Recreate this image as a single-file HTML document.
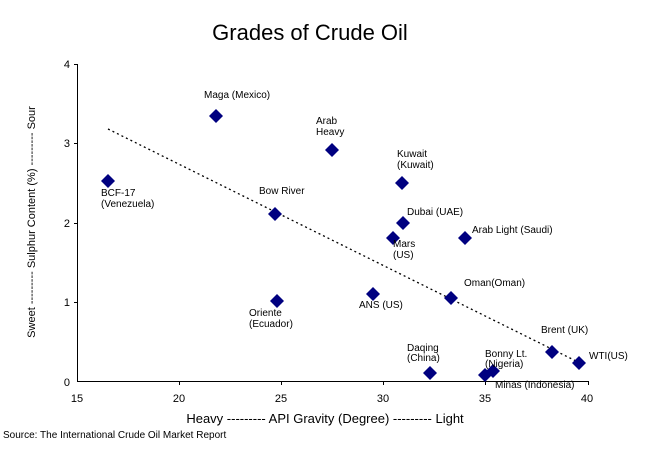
<!DOCTYPE html><html><head><style>body{margin:0;background:#fff}</style></head><body>
<svg width="650" height="448" xmlns="http://www.w3.org/2000/svg" font-family="Liberation Sans, Arial, sans-serif">
<rect width="650" height="448" fill="#fff"/>
<text x="310" y="40" font-size="22" text-anchor="middle" fill="#000">Grades of Crude Oil</text>
<g stroke="#000" stroke-width="1">
<line x1="77.5" y1="64" x2="77.5" y2="382"/>
<line x1="77" y1="381.5" x2="589" y2="381.5"/>
<line x1="74" y1="64.5" x2="78" y2="64.5"/><line x1="74" y1="143.5" x2="78" y2="143.5"/><line x1="74" y1="223.5" x2="78" y2="223.5"/><line x1="74" y1="302.5" x2="78" y2="302.5"/>
<line x1="179.5" y1="381" x2="179.5" y2="385"/><line x1="281.5" y1="381" x2="281.5" y2="385"/><line x1="383.5" y1="381" x2="383.5" y2="385"/><line x1="485.5" y1="381" x2="485.5" y2="385"/><line x1="588.5" y1="381" x2="588.5" y2="385"/>
</g>
<g font-size="11" text-anchor="end"><text x="70" y="68">4</text><text x="70" y="147">3</text><text x="70" y="227">2</text><text x="70" y="306">1</text><text x="70" y="386">0</text></g>
<g font-size="11" text-anchor="middle"><text x="77" y="402">15</text><text x="179" y="402">20</text><text x="281" y="402">25</text><text x="383" y="402">30</text><text x="485" y="402">35</text><text x="587" y="402">40</text></g>
<line x1="108" y1="129" x2="580" y2="363" stroke="#000" stroke-width="1.3" stroke-dasharray="2,3"/>
<g fill="#000080">
<path d="M108 174l7 7-7 7-7-7z"/><path d="M216 109l7 7-7 7-7-7z"/><path d="M332 143l7 7-7 7-7-7z"/><path d="M402 176l7 7-7 7-7-7z"/><path d="M275 207l7 7-7 7-7-7z"/><path d="M403 216l7 7-7 7-7-7z"/><path d="M393 231l7 7-7 7-7-7z"/><path d="M465 231l7 7-7 7-7-7z"/><path d="M277 294l7 7-7 7-7-7z"/><path d="M373 287l7 7-7 7-7-7z"/><path d="M451 291l7 7-7 7-7-7z"/><path d="M552 345l7 7-7 7-7-7z"/><path d="M579 356l7 7-7 7-7-7z"/><path d="M430 366l7 7-7 7-7-7z"/><path d="M493 364l7 7-7 7-7-7z"/><path d="M485 368l7 7-7 7-7-7z"/>
</g>
<g font-size="10" fill="#000">
<text x="101" y="196">BCF-17</text><text x="101" y="207">(Venezuela)</text>
<text x="204" y="98">Maga (Mexico)</text>
<text x="316" y="124">Arab</text><text x="316" y="135">Heavy</text>
<text x="397" y="157">Kuwait</text><text x="397" y="168">(Kuwait)</text>
<text x="259" y="194">Bow River</text>
<text x="407" y="215">Dubai (UAE)</text>
<text x="393" y="247">Mars</text><text x="393" y="258">(US)</text>
<text x="472" y="233">Arab Light (Saudi)</text>
<text x="249" y="316">Oriente</text><text x="249" y="327">(Ecuador)</text>
<text x="359" y="308">ANS (US)</text>
<text x="464" y="286">Oman(Oman)</text>
<text x="541" y="333">Brent (UK)</text>
<text x="589" y="359">WTI(US)</text>
<text x="407" y="351">Daqing</text><text x="407" y="361">(China)</text>
<text x="485" y="357">Bonny Lt.</text><text x="485" y="367">(Nigeria)</text>
<text x="495" y="388">Minas (Indonesia)</text>
</g>
<text x="325" y="423" font-size="13" text-anchor="middle">Heavy --------- API Gravity (Degree) --------- Light</text>
<text transform="translate(35,222) rotate(-90)" font-size="11" text-anchor="middle">Sweet --------- Sulphur Content (%) --------- Sour</text>
<text x="3" y="438" font-size="10">Source: The International Crude Oil Market Report</text>
</svg>
</body></html>
